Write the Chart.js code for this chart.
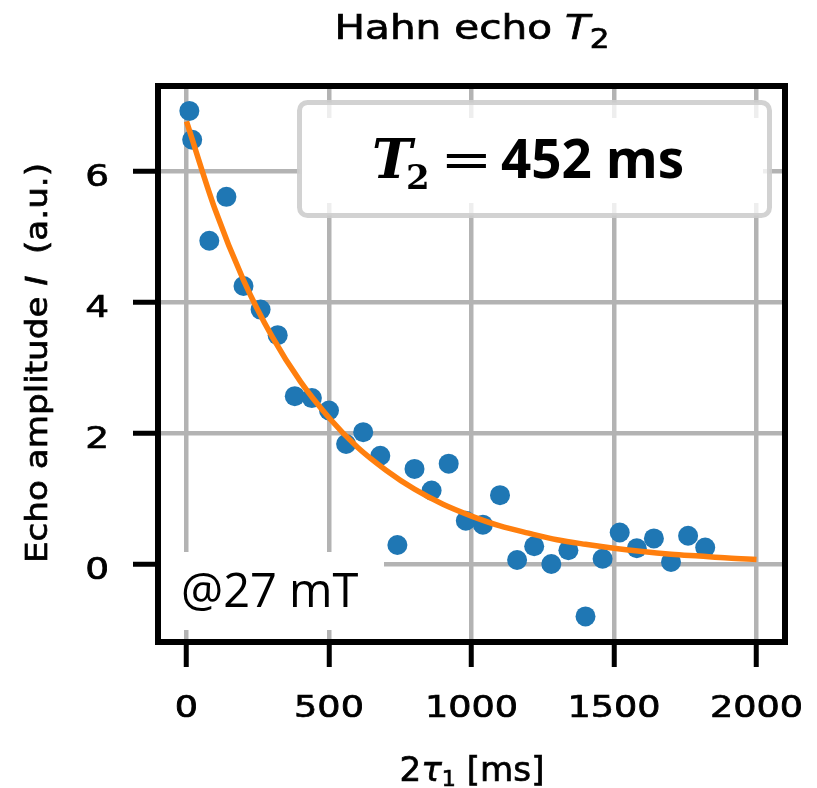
<!DOCTYPE html>
<html>
<head>
<meta charset="utf-8">
<script src="https://cdn.jsdelivr.net/npm/chart.js@4.4.1/dist/chart.umd.min.js"></script>
<style>
  html, body { margin: 0; padding: 0; background: #fff; }
  canvas { display: block; }
</style>
</head>
<body>
<canvas id="hahnChart" width="817" height="788"></canvas>
<script>
// Hahn echo decay: measured echo amplitudes and the exponential fit (T2 = 452 ms)
const delayMs = [10, 20, 80, 140, 200, 260, 320, 380, 440, 500, 560, 620, 680, 740, 800, 860,
  920, 980, 1040, 1100, 1160, 1220, 1280, 1340, 1400, 1460, 1520, 1580, 1640, 1700, 1760, 1820];
const echoAmp = [6.92, 6.48, 4.94, 5.61, 4.25, 3.89, 3.50, 2.57, 2.54, 2.35, 1.84, 2.02, 1.66, 0.30, 1.46, 1.13,
  1.54, 0.67, 0.61, 1.06, 0.07, 0.28, 0.01, 0.22, -0.79, 0.09, 0.49, 0.25, 0.40, 0.04, 0.44, 0.26];

const fitMs = [0, 100, 200, 300, 400, 500, 600, 700, 800, 900, 1000,
  1100, 1200, 1300, 1400, 1500, 1600, 1700, 1800, 1900, 2000];
const fitAmp = [6.76, 5.42, 4.34, 3.48, 2.79, 2.24, 1.79, 1.44, 1.15, 0.92, 0.74,
  0.59, 0.48, 0.38, 0.31, 0.25, 0.20, 0.16, 0.13, 0.10, 0.08];

const xTickValues = [0, 500, 1000, 1500, 2000];
const yTickValues = [0, 2, 4, 6];

const BLUE = "#1f77b4";
const ORANGE = "#ff7f0e";
const GRID = "#b3b3b3";
const SANS = "'DejaVu Sans'";

// draws a row of text pieces (for italics / subscripts), stretched to a target width
function drawRuns(ctx, runs, x, y, opts) {
  let total = 0;
  runs.forEach(r => { ctx.font = r.font; total += ctx.measureText(r.t).width; });
  const stretch = opts.width ? opts.width / total : (opts.stretch || 1);
  ctx.save();
  ctx.translate(x, y);
  if (opts.rotate) ctx.rotate(-Math.PI / 2);
  ctx.scale(stretch, 1);
  ctx.fillStyle = "#000";
  ctx.strokeStyle = "#000";
  ctx.lineWidth = 0.7;   // the reference text is a little heavier than plain DejaVu
  ctx.textBaseline = "alphabetic";
  ctx.textAlign = "left";
  let cx = opts.align === "right" ? -total : opts.align === "left" ? 0 : -total / 2;
  runs.forEach(r => {
    ctx.font = r.font;
    ctx.fillText(r.t, cx, r.dy || 0);
    ctx.strokeText(r.t, cx, r.dy || 0);
    cx += ctx.measureText(r.t).width;
  });
  ctx.restore();
}

const overlayPlugin = {
  id: "overlay",
  beforeDatasetsDraw(chart) {
    const ctx = chart.ctx;
    ctx.save();
    // T2 result box (semi-transparent frame, solid centre)
    ctx.fillStyle = "rgba(255,255,255,0.78)";
    ctx.strokeStyle = "rgba(205,205,205,0.9)";
    ctx.lineWidth = 5;
    ctx.beginPath();
    ctx.roundRect(299.5, 102.5, 470, 113, 8);
    ctx.fill();
    ctx.stroke();
    ctx.fillStyle = "#fff";
    ctx.fillRect(302, 118, 461, 85);
    // field label box
    ctx.fillRect(161, 552, 223, 78);
    ctx.restore();
  },
  afterDraw(chart) {
    const ctx = chart.ctx;
    const a = chart.chartArea;
    const xs = chart.scales.x, ys = chart.scales.y;

    // frame
    ctx.save();
    ctx.strokeStyle = "#000";
    ctx.lineWidth = 6;
    ctx.strokeRect(a.left, a.top, a.right - a.left, a.bottom - a.top);
    ctx.restore();

    // tick labels
    xTickValues.forEach(v => {
      drawRuns(ctx, [{ t: String(v), font: "30px " + SANS }], xs.getPixelForValue(v), 717, { stretch: 1.22 });
    });
    yTickValues.forEach(v => {
      drawRuns(ctx, [{ t: String(v), font: "30px " + SANS }], 109, ys.getPixelForValue(v) + 14.5, { stretch: 1.25, align: "right" });
    });

    // title
    drawRuns(ctx, [
      { t: "Hahn echo ", font: "34px " + SANS },
      { t: "T", font: "italic 34px " + SANS },
      { t: "2", font: "26px " + SANS, dy: 9 }
    ], 472, 39, { width: 275 });

    // x axis title
    drawRuns(ctx, [
      { t: "2", font: "34px " + SANS },
      { t: "τ", font: "italic 34px " + SANS },
      { t: "1", font: "22px " + SANS, dy: 5 },
      { t: " [ms]", font: "34px " + SANS }
    ], 472, 781, { width: 145 });

    // y axis title
    drawRuns(ctx, [
      { t: "Echo amplitude ", font: "30px " + SANS },
      { t: "I", font: "italic 30px " + SANS },
      { t: "  (a.u.)", font: "30px " + SANS }
    ], 47, 363, { width: 400, rotate: true });

    // T2 annotation
    ctx.save();
    ctx.fillStyle = "#000";
    ctx.textBaseline = "alphabetic";
    ctx.textAlign = "left";
    ctx.font = "italic bold 54px 'DejaVu Serif'";
    ctx.fillText("T", 372, 178);
    ctx.font = "bold 34px 'DejaVu Serif'";
    ctx.fillText("2", 406, 189);
    ctx.save();
    ctx.translate(466.5, 176);
    ctx.scale(1.3, 1);
    ctx.textAlign = "center";
    ctx.font = "48px 'DejaVu Sans'";
    ctx.fillText("=", 0, 0);
    ctx.restore();
    ctx.font = "bold 53px 'Open Sans'";
    ctx.fillText("452 ms", 501, 178);
    // field label
    ctx.font = "47px 'Open Sans'";
    ctx.fillText("@27 mT", 181, 607);
    ctx.restore();
  }
};

new Chart(document.getElementById("hahnChart"), {
  type: "scatter",
  data: {
    datasets: [
      {
        label: "fit",
        data: fitMs.map((t, i) => ({ x: t, y: fitAmp[i] })),
        showLine: true,
        borderColor: ORANGE,
        borderWidth: 5.5,
        pointRadius: 0,
        cubicInterpolationMode: "monotone",
        order: 0,
      },
      {
        label: "data",
        data: delayMs.map((t, i) => ({ x: t, y: echoAmp[i] })),
        backgroundColor: BLUE,
        borderWidth: 0,
        pointRadius: 10,
        order: 1,
      },
    ],
  },
  options: {
    responsive: false,
    animation: false,
    events: [],
    layout: { padding: { left: 0, top: 86, right: 32, bottom: 0 } },
    plugins: { legend: { display: false }, tooltip: { enabled: false } },
    scales: {
      x: {
        type: "linear",
        min: -100,
        max: 2100,
        afterBuildTicks: s => { s.ticks = xTickValues.map(v => ({ value: v })); },
        afterFit: s => { s.height = 146; },
        ticks: { display: false },
        border: { display: false },
        grid: { color: GRID, lineWidth: 4.5, tickLength: 25, tickColor: "#000", tickWidth: 5 },
      },
      y: {
        type: "linear",
        min: -1.18,
        max: 7.3,
        afterBuildTicks: s => { s.ticks = yTickValues.map(v => ({ value: v })); },
        afterFit: s => { s.width = 158; },
        ticks: { display: false },
        border: { display: false },
        grid: { color: GRID, lineWidth: 4.5, tickLength: 25, tickColor: "#000", tickWidth: 5 },
      },
    },
  },
  plugins: [overlayPlugin],
});
</script>
</body>
</html>
